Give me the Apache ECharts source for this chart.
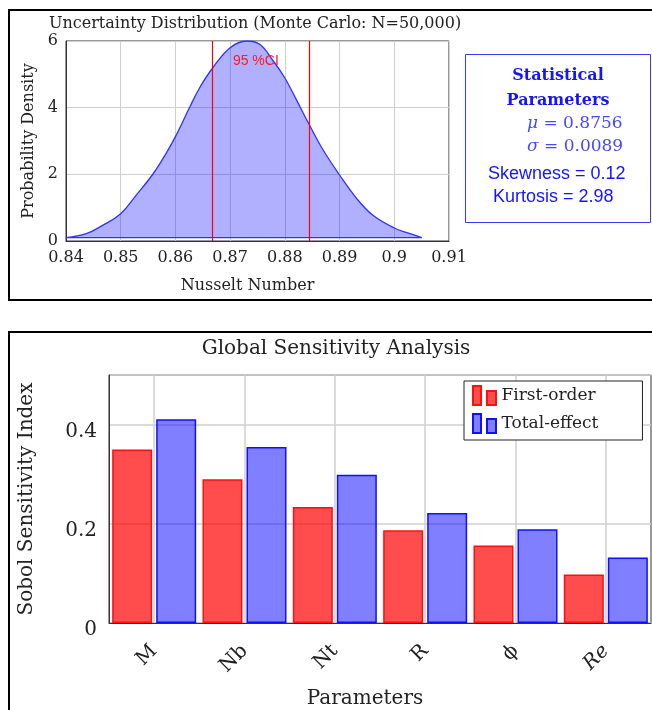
<!DOCTYPE html>
<html>
<head>
<meta charset="utf-8">
<script src="https://cdn.jsdelivr.net/npm/echarts@6/dist/echarts.min.js"></script>
<style>
  html, body { margin: 0; padding: 0; background: #fff; }
  #chart { width: 652px; height: 710px; }
</style>
</head>
<body>
<div id="chart"></div>
<script>
// top panel: Monte Carlo density of the Nusselt number
const nusselt = [0.84, 0.8437, 0.8467, 0.85, 0.8528, 0.8559, 0.8583, 0.86, 0.8626, 0.8644, 0.8668, 0.87,
    0.873, 0.8754, 0.8779, 0.88, 0.8821, 0.8844, 0.887, 0.89, 0.8931, 0.8961, 0.9, 0.9029, 0.905];
const density = [0.1, 0.22, 0.47, 0.82, 1.37, 2.01, 2.63, 3.13, 4.01, 4.59, 5.19, 5.8,
    6.0, 5.9, 5.4, 4.89, 4.24, 3.51, 2.73, 1.98, 1.28, 0.77, 0.39, 0.22, 0.1];
const baseline = [[0.84, 0.1], [0.905, 0.1]];
const ciBounds = [0.8668, 0.8844];
const ciLabelPos = [0.8747, 5.4];

// stats box
const statLines = {
    mu: '0.8756',
    sigma: '0.0089',
    skewness: '0.12',
    kurtosis: '2.98'
};

// bottom panel: Sobol indices
const params = ['M', 'Nb', 'Nt', 'R', 'ϕ', 'Re'];
const firstOrder = [0.35, 0.29, 0.234, 0.187, 0.156, 0.098];
const totalEffect = [0.411, 0.355, 0.299, 0.222, 0.189, 0.132];

const SERIF = 'DejaVu Serif';
const SANS = 'Liberation Sans';

const chart = echarts.init(document.getElementById('chart'));

const ciStyle = { color: '#ff0000', width: 1.2, type: 'solid', opacity: 1 };

const option = {
    backgroundColor: '#fff',
    animation: false,
    title: [
        {
            text: 'Uncertainty Distribution (Monte Carlo: N=50,000)',
            left: 49, top: 16,
            padding: 0,
            textStyle: { fontFamily: SERIF, fontSize: 16, fontWeight: 'normal', color: '#222' }
        },
        {
            text: 'Global Sensitivity Analysis',
            left: 336, top: 339,
            textAlign: 'center',
            padding: 0,
            textStyle: { fontFamily: SERIF, fontSize: 20, fontWeight: 'normal', color: '#222' }
        }
    ],
    legend: {
        data: ['First-order', 'Total-effect'],
        orient: 'vertical',
        left: 464, top: 381,
        padding: [4, 44, 6, 8],
        itemGap: 7,
        itemWidth: 24, itemHeight: 19,
        icon: 'path://M0,0h8v19h-8z M14,5h9v14h-9z',
        backgroundColor: '#fff',
        borderColor: '#222', borderWidth: 1,
        textStyle: { fontFamily: SERIF, fontSize: 17, color: '#222' }
    },
    grid: [
        { left: 66, top: 41, width: 383, height: 200, show: true, borderColor: '#333', borderWidth: 1 },
        { left: 109, top: 375, width: 542, height: 248, show: true, borderColor: '#333', borderWidth: 1 }
    ],
    xAxis: [
        {
            gridIndex: 0, type: 'value', min: 0.84, max: 0.91, interval: 0.01,
            name: 'Nusselt Number', nameLocation: 'middle', nameGap: 37,
            nameTextStyle: { fontFamily: SERIF, fontSize: 16, color: '#222', padding: [0, 20, 0, 0] },
            axisLine: { lineStyle: { color: '#333' } },
            axisTick: { show: false },
            axisLabel: { fontFamily: SERIF, fontSize: 16, color: '#222', margin: 9 },
            splitLine: { lineStyle: { color: '#cfcfcf' } }
        },
        {
            gridIndex: 1, type: 'category', data: params,
            name: 'Parameters', nameLocation: 'middle', nameGap: 66,
            nameTextStyle: { fontFamily: SERIF, fontSize: 20, color: '#222', padding: [0, 30, 0, 0] },
            axisLine: { lineStyle: { color: '#333' } },
            axisTick: { alignWithLabel: true, length: 8, lineStyle: { color: '#888' } },
            axisLabel: {
                rotate: 45, margin: 25, fontFamily: SERIF, fontSize: 20, color: '#222',
                formatter: function (v) { return v === 'Re' ? '{it|Re}' : v; },
                rich: { it: { fontFamily: SERIF, fontSize: 20, fontStyle: 'italic', color: '#222' } }
            },
            splitLine: { show: true, alignWithLabel: true, lineStyle: { color: '#cfcfcf', width: 1.5 } }
        }
    ],
    yAxis: [
        {
            gridIndex: 0, type: 'value', min: 0, max: 6, interval: 2,
            name: 'Probability Density', nameLocation: 'middle', nameGap: 28,
            nameTextStyle: { fontFamily: SERIF, fontSize: 16, color: '#222' },
            axisLine: { show: true, lineStyle: { color: '#333' } },
            axisTick: { show: false },
            axisLabel: { fontFamily: SERIF, fontSize: 16, color: '#222', margin: 8 },
            splitLine: { lineStyle: { color: '#cfcfcf' } }
        },
        {
            gridIndex: 1, type: 'value', min: 0, max: 0.5, interval: 0.2,
            name: 'Sobol Sensitivity Index', nameLocation: 'middle', nameGap: 72,
            nameTextStyle: { fontFamily: SERIF, fontSize: 20, color: '#222' },
            axisLine: { show: true, lineStyle: { color: '#333' } },
            axisTick: { show: false },
            axisLabel: {
                color: '#222', margin: 12, showMaxLabel: false,
                formatter: function (v) { return '{a|' + v + '}'; },
                rich: { a: { fontFamily: SERIF, fontSize: 20, color: '#222', padding: [14, 0, 0, 0] } }
            },
            splitLine: { lineStyle: { color: '#cfcfcf', width: 1.5 } }
        }
    ],
    series: [
        {
            name: 'density', type: 'line',
            xAxisIndex: 0, yAxisIndex: 0,
            data: nusselt.map((x, i) => [x, density[i]]),
            smooth: 0.4, showSymbol: false,
            lineStyle: { color: '#3030ff', width: 1.3 },
            areaStyle: { color: 'rgba(0,0,255,0.31)', opacity: 1, origin: 0.1 }
        },
        {
            name: 'baseline', type: 'line', z: 5,
            xAxisIndex: 0, yAxisIndex: 0,
            data: baseline, showSymbol: false,
            lineStyle: { color: '#3030ff', width: 1.3 },
            markLine: {
                silent: true, symbol: 'none', precision: 4,
                label: { show: false },
                lineStyle: ciStyle,
                data: ciBounds.map(v => ({ xAxis: v, lineStyle: ciStyle }))
            },
            markPoint: {
                silent: true, symbol: 'circle', symbolSize: 0,
                label: {
                    show: true, formatter: '95 %CI', position: 'inside',
                    fontFamily: SANS, fontSize: 14, color: '#ff1a1a'
                },
                data: [{ coord: ciLabelPos }]
            }
        },
        {
            name: 'First-order', type: 'bar',
            xAxisIndex: 1, yAxisIndex: 1,
            data: firstOrder,
            barCategoryGap: '7%', barGap: '10%',
            itemStyle: { color: 'rgba(255,0,0,0.7)', borderColor: '#ff1010', borderWidth: 1.5 }
        },
        {
            name: 'Total-effect', type: 'bar',
            xAxisIndex: 1, yAxisIndex: 1,
            data: totalEffect,
            barCategoryGap: '7%', barGap: '10%',
            itemStyle: { color: 'rgba(0,0,255,0.5)', borderColor: '#1010ff', borderWidth: 1.5 }
        }
    ],
    graphic: [
        // panel frames
        { type: 'rect', shape: { x: 9, y: 10, width: 660, height: 290 }, style: { fill: null, stroke: '#000', lineWidth: 2 }, silent: true },
        { type: 'rect', shape: { x: 9, y: 332, width: 660, height: 400 }, style: { fill: null, stroke: '#000', lineWidth: 2 }, silent: true },
        // stats box
        { type: 'rect', shape: { x: 465.5, y: 54.5, width: 185, height: 168 }, style: { fill: '#fff', stroke: '#3a3aff', lineWidth: 1 }, silent: true },
        {
            type: 'text', x: 558, y: 63, silent: true,
            style: {
                text: 'Statistical\nParameters', textAlign: 'center',
                font: 'bold 16px "' + SERIF + '"', fill: '#1414ff', lineHeight: 25
            }
        },
        {
            type: 'text', x: 527, y: 112, silent: true,
            style: {
                text: '{i|μ} = ' + statLines.mu + '\n{i|σ} = ' + statLines.sigma,
                font: '17px "' + SERIF + '"', fill: '#4848ff', lineHeight: 23,
                rich: { i: { font: 'italic 17px "' + SERIF + '"', fill: '#4848ff' } }
            }
        },
        {
            type: 'text', x: 488, y: 165, silent: true,
            style: { text: 'Skewness = ' + statLines.skewness, font: '18px "' + SANS + '"', fill: '#1414ff' }
        },
        {
            type: 'text', x: 493, y: 188, silent: true,
            style: { text: 'Kurtosis = ' + statLines.kurtosis, font: '18px "' + SANS + '"', fill: '#1414ff' }
        }
    ]
};

chart.setOption(option);
</script>
</body>
</html>
